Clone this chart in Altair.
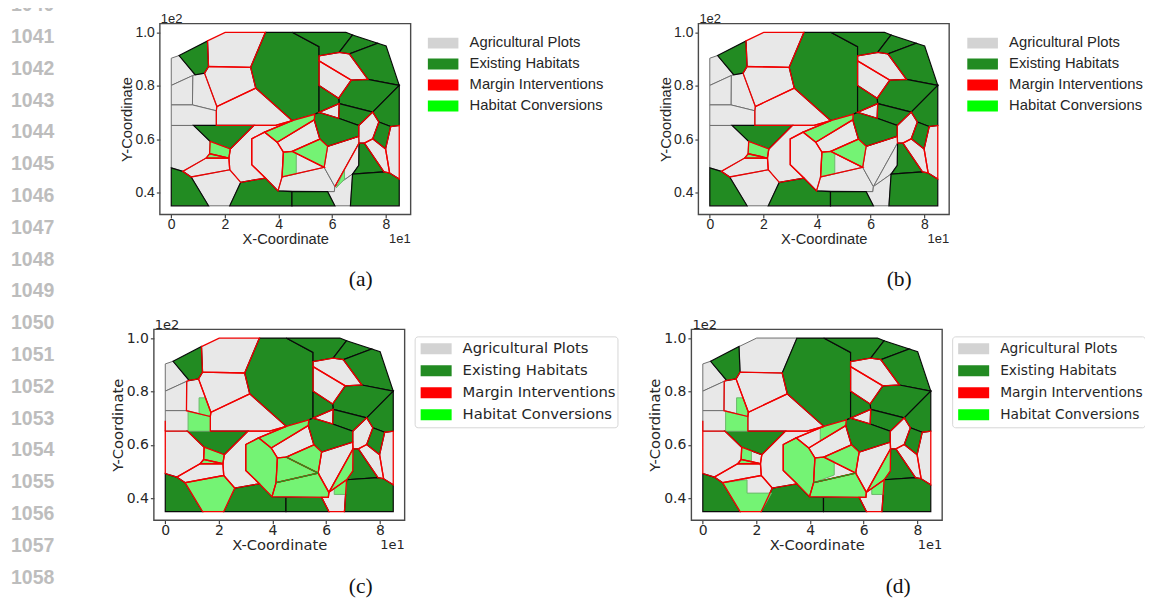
import altair as alt
import pandas as pd

# vertices: x in tens, y in hundreds
V = dict(
    A=(0,.903),B=(.29,.913),C=(1.35,.968),D=(2.01,1.0),E=(3.51,1.0),F=(4.51,1.0),G=(6.51,1.0),H=(6.76,.990),
    I=(7.70,.959),J=(8.01,.949),K=(8.5,.801),L=(8.5,.651),M=(8.5,.450),N=(8.5,.35),O=(6.68,.35),P=(6.10,.35),
    Q=(4.50,.35),R=(2.18,.35),S=(1.39,.35),T=(0,.35),U=(0,.801),Y=(0,.728),W=(0,.651),X=(0,.492),
    a1=(.80,.838),a2=(.89,.841),a3=(1.24,.847),a4=(1.39,.872),a5=(.79,.728),
    b1=(2.96,.869),b2=(3.15,.791),b3=(4.51,.669),b4=(1.70,.722),b5=(1.68,.706),b6=(1.68,.651),
    c1=(5.51,.946),c2=(5.51,.700),
    d1=(3.89,.651),d2=(.83,.651),d3=(1.45,.591),d4=(1.43,.545),d5=(.43,.479),d6=(3.08,.651),d7=(2.20,.563),
    d8=(2.15,.529),d9=(1.30,.529),d10=(2.18,.485),d11=(.74,.458),d12=(2.59,.438),
    e1=(3.51,.454),e2=(3.0,.504),e3=(3.0,.601),e4=(3.48,.626),
    f1=(5.35,.693),f2=(3.95,.588),f3=(5.33,.672),f4=(4.18,.551),f5=(4.13,.458),f6=(3.98,.406),
    g1=(5.54,.600),g2=(4.51,.554),g3=(5.83,.573),g4=(5.70,.494),g5=(6.10,.422),g6=(6.08,.403),
    h1=(6.24,.678),h2=(6.99,.651),h3=(6.99,.610),h5=(7.0,.585),h7=(6.99,.502),
    i1=(4.50,.403),i2=(5.83,.403),j1=(6.76,.469),
    k1=(7.2,.585),k2=(7.93,.477),k3=(8.14,.473),k4=(7.51,.601),k5=(7.99,.563),k6=(8.18,.647),k7=(7.74,.664),k8=(7.51,.701),
    m1=(6.26,.733),n0=(5.51,.912),n1=(5.51,.801),n2=(6.24,.753),n3=(5.51,.893),n4=(6.71,.821),
    n5=(6.26,.925),n6=(6.64,.919),n7=(7.33,.824),
)

HABITATS = [
    "B C a4 a3 a2","E F c1 n0 n3 n1 c2 f1 b3 b2 b1","F G H n5 n0 c1","H I n6 n5","I J K n7 n6",
    "n2 n4 n7 K k8 m1","n1 n2 m1 c2","m1 k8 h2 h1","k8 K L k6 k7","k7 k6 k5 k4",
    "c2 h1 h2 h3 g3 g1 f3 f1","d2 d6 d7 d3","X d5 d11 S T","d12 e1 f6 i1 Q R","i1 i2 P Q",
    "h5 k1 k2 j1 h7","j1 k2 k3 M N O",
]
PLOTS = dict(
    C1="A B a2 a1 U",C2="C D E b1 a4",C3="a4 b1 b2 b4 a3",C4="a1 a2 a3 b4 b5 a5",C5="U a1 a5 Y",
    C6="Y a5 b5 b6 W",C7="b4 b2 b3 d1 b6 b5",C8="W d2 d3 d4 d9 d5 X",C9="d3 d7 d8 d4",C10="d4 d8 d9",
    C11="d9 d8 d10 d11 d5",C12="d11 d10 d12 R S",C13="d6 d1 b3 e4 e3 e2 e1 d12 d10 d8 d7",C14="e4 b3 f1 f3 f2",
    C15="e3 e4 f2 f4 f5 f6 e1 e2",C16="f2 f3 g1 g2 f4",C17="g2 g1 g3 g4",C18="f4 g2 g4 f5",C19="f5 g4 g5 g6 f6",
    C20="g3 h3 h5 g5 g4",C21="h5 h7 j1 g5",C22="i2 g6 g5 j1 O P",C23="h2 k8 k7 k4 k1 h5 h3",C24="k1 k4 k5 k3 k2",
    C25="k6 L M k3 k5",C26="n0 n5 n6 n7 n4 n3",C27="n3 n4 n2 n1",C28="c2 m1 h1",
)
ALL = list(PLOTS)

# partial conversions
PART_C18 = ["f4","g2",(4.66,.548),(4.66,.470),"f5"]
PART_C21 = [(6.46,.485),(6.46,.450),(6.15,.417)]
PART_C4 = [(1.26,.776),(1.50,.776),"b4","b5",(1.26,.716)]
PART_C6 = [(.85,.725),"b5","b6",(.85,.651)]
PART_C22 = [(6.30,.436),"j1",(6.73,.414),(6.30,.414)]
PART_C9D = ["d3",(1.81,.576),(1.81,.535),"d8","d4"]
PART_C12D = ["d11",(1.65,.469),(1.65,.419),(2.56,.419),"R","S"]
PART_C14D = [(4.38,.664),"b3","f1","f3",(4.38,.614)]
PART_C18D = ["f4","g2",(4.90,.538),(4.90,.487),"f5"]

def cell(n):
    return PLOTS[n].split()

PANELS = dict(
    a=dict(gray="C1 C4 C5 C6 C8 C12 C19 C20 C21 C22".split(),
           conv=[cell("C9"),cell("C10"),cell("C14"),cell("C17"),PART_C18,PART_C21],
           red_extra=[["h3","g3"],["h5","g5"]], green=[]),
    b=dict(gray="C1 C4 C5 C6 C8 C12 C19 C20 C21 C22".split(),
           conv=[cell("C9"),cell("C10"),cell("C14"),cell("C17"),PART_C18],
           red_extra=[["h3","g3"]], green=[]),
    c=dict(gray="C1 C5 C6".split(),
           conv=[PART_C4,PART_C6,cell("C9"),cell("C10"),cell("C12"),cell("C14"),cell("C15"),cell("C17"),
                 cell("C18"),cell("C19"),cell("C21"),PART_C22],
           red_extra=[["W",(0,.69)]], green=[["g2","g4"],["f5","g4"]]),
    d=dict(gray="C1 C2 C5 C6".split(),
           conv=[PART_C4,PART_C6,PART_C9D,cell("C10"),PART_C12D,PART_C14D,cell("C15"),cell("C17"),
                 PART_C18D,cell("C19"),cell("C21"),PART_C22],
           red_extra=[["W",(0,.69)]], green=[["f5","g4"]]),
)

LEGEND_NAMES = ["Agricultural Plots","Existing Habitats","Margin Interventions","Habitat Conversions"]
LEGEND_COLORS = ["#d3d3d3","#228b22","#ff0000","#00ff00"]
X_TICKS = [0,2,4,6,8]
Y_TICKS = [.4,.6,.8,1.0]
LINE_NUMBERS = list(range(1040,1059))

def pt(v):
    return V[v] if isinstance(v,str) else v

def table(polys):
    rows=[]
    for k,p in enumerate(polys):
        for i,v in enumerate(p):
            x,y=pt(v)
            rows.append(dict(c=k,i=i,x=x,y=y))
    return pd.DataFrame(rows)

XS = alt.Scale(domain=[-.425,8.925],nice=False,zero=False)
YS = alt.Scale(domain=[.3175,1.0325],nice=False,zero=False)
INK="#262626"

def panel(key, font, framed, leg_x, leg_y, row_h, cap, cap_x, cap_y, ytp, xtp, leg_size=14.8, leg_off=20):
    p=PANELS[key]
    gray=[cell(n) for n in p["gray"]]
    red=[cell(n) for n in ALL if n not in p["gray"]]
    habs=[h.split() for h in HABITATS]
    xax=alt.Axis(values=X_TICKS,format="d",grid=False,domain=False,tickColor="#222",tickSize=3.5,
            title="X-Coordinate",labelFont=font,titleFont=font,labelFontSize=14,titleFontSize=14.7,titleFontWeight="normal",
            labelColor=INK,titleColor=INK,labelPadding=0,titlePadding=xtp,labelFlush=False)
    yax=alt.Axis(values=Y_TICKS,format=".1f",grid=False,domain=False,tickColor="#222",tickSize=3.5,
            title="Y-Coordinate",labelFont=font,titleFont=font,labelFontSize=14,titleFontSize=14.7,titleFontWeight="normal",
            labelColor=INK,titleColor=INK,labelPadding=2,titlePadding=ytp,labelFlush=False)
    ex=alt.X("x:Q",scale=XS,axis=xax)
    ey=alt.Y("y:Q",scale=YS,axis=yax)
    def poly_layer(polys, **mark):
        return alt.Chart(table(polys)).mark_line(interpolate="linear-closed",**mark).encode(
            x=ex,y=ey,order=alt.Order("i:Q"),detail="c:N")
    legend_args=dict(orient="none",legendX=leg_x,legendY=leg_y,title=None,
        symbolSize=484,symbolStrokeWidth=0,clipHeight=row_h,rowPadding=0,
        labelFont=font,labelFontSize=leg_size,labelColor=INK,labelOffset=leg_off,labelLimit=300)
    if framed:
        legend_args.update(symbolType="M-0.59,-0.5H2.23V0.5H-0.59Z",strokeColor="#d6d6d6",fillColor="white",cornerRadius=3,padding=1.5)
    else:
        legend_args.update(symbolType="M-1,-0.5H1.8V0.5H-1Z",padding=0)
    leg=alt.Chart(pd.DataFrame(dict(n=LEGEND_NAMES,x=[4.5]*4,y=[.8]*4))).mark_point(filled=True,size=1,opacity=1).encode(
        x=ex,y=ey,
        color=alt.Color("n:N",scale=alt.Scale(domain=LEGEND_NAMES,range=LEGEND_COLORS),sort=LEGEND_NAMES,legend=alt.Legend(**legend_args)))
    layers=[
        leg,
        poly_layer(red,fill="#e8e8e8",strokeWidth=0,filled=True),
        poly_layer(gray,fill="#e8e8e8",stroke="#6f6f6f",strokeWidth=1,filled=True),
        poly_layer(habs,fill="#228b22",stroke="#0a0a0a",strokeWidth=1.2,filled=True),
        poly_layer(p["conv"],fill="#74f374",stroke="#6cb86c",strokeWidth=1,filled=True),
        poly_layer(red,stroke="#f00000",strokeWidth=1.3),
    ]
    if p["red_extra"]:
        layers.append(poly_layer(p["red_extra"],stroke="#f00000",strokeWidth=1.3))
    if p["green"]:
        layers.append(poly_layer(p["green"],stroke="#1f9a1f",strokeWidth=1.2))
    frame=alt.Chart(pd.DataFrame(dict(x=[-.425],x2=[8.925],y=[.3175],y2=[1.0325]))).mark_rect(filled=False,stroke="#4a4a4a",strokeWidth=1.4).encode(
        x=ex,x2="x2:Q",y=ey,y2="y2:Q")
    layers.append(frame)
    def txt(t,x,y,**kw):
        return alt.Chart(pd.DataFrame(dict(t=[t]))).mark_text(**kw).encode(text="t:N",x=alt.value(x),y=alt.value(y))
    layers.append(txt("1e2",1,2.5,font=font,fontSize=13,align="left",baseline="bottom",color=INK))
    layers.append(txt("1e1",251,223,font=font,fontSize=13,align="right",baseline="bottom",color=INK))
    layers.append(txt(cap,cap_x,cap_y,font="Liberation Serif",fontSize=21.5,align="center",baseline="middle",color="#111"))
    return alt.layer(*layers).properties(width=251,height=191)

def spacer(w,h):
    return alt.Chart(pd.DataFrame(dict(t=[""]))).mark_text().encode(text="t:N").properties(width=w,height=h)

SANS="Liberation Sans"; DJ="DejaVu Sans"
a=panel("a",SANS,False,268,9,21,"(a)",201,257,0,0)
b=panel("b",SANS,False,269,9,21,"(b)",201,257,0,0)
c=panel("c",DJ,True,261,7,21.8,"(c)",207,257.5,1,0,leg_off=24.5)
d=panel("d",DJ,True,261,7,21.8,"(d)",207,257.5,1,0,leg_size=13.8,leg_off=24.5)

row1=alt.hconcat(spacer(92,294.5),a,spacer(288,10),b,spacing=0,bounds="flush").resolve_scale(color="independent")
row2=alt.hconcat(spacer(85.5,270),c,spacer(287,10),d,spacing=0,bounds="flush").resolve_scale(color="independent")
right=alt.vconcat(row1,row2,spacing=0).resolve_scale(color="independent")

gutter=alt.Chart(pd.DataFrame(dict(n=LINE_NUMBERS))).mark_text(font="Liberation Sans",fontSize=19.5,fontWeight="bold",color="#bdbdbd",align="left",baseline="middle").encode(
    y=alt.Y("n:Q",scale=alt.Scale(domain=[1040.579,1058.49],reverse=True,nice=False,zero=False),axis=None),
    x=alt.value(3),text="n:Q").properties(width=60,height=570)

chart=alt.hconcat(gutter,right,spacing=0).resolve_scale(color="independent").properties(padding={"top":-13.6,"left":0,"right":-1,"bottom":0}).configure_view(strokeWidth=0)
chart.save("out.html",embed_options={"renderer":"svg","actions":False})
